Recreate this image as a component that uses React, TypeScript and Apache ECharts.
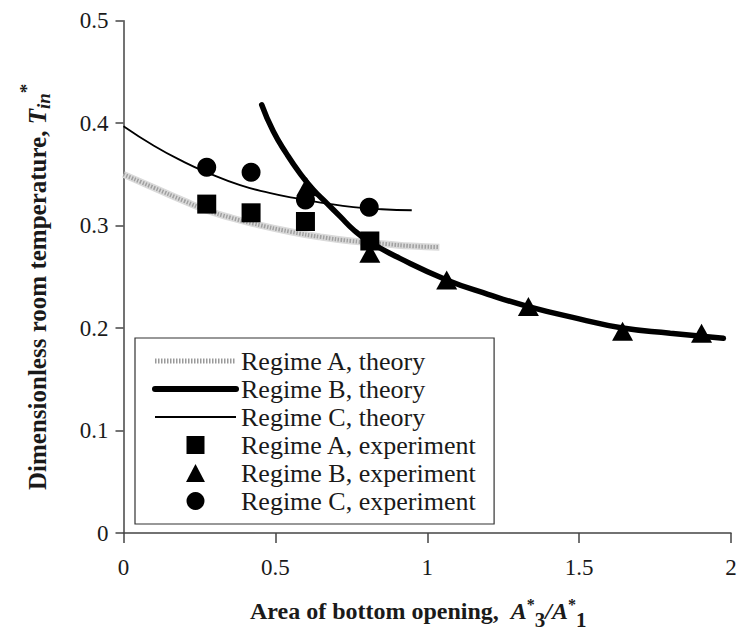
import React, { useEffect, useRef } from "react";
import * as echarts from "echarts";

const xTicks = [0, 0.5, 1, 1.5, 2];
const yTicks = [0, 0.1, 0.2, 0.3, 0.4, 0.5];

const regimeATheory = [
  [0, 0.35], [0.1, 0.337], [0.2, 0.324], [0.274, 0.315], [0.35, 0.308], [0.427, 0.302],
  [0.55, 0.294], [0.647, 0.289], [0.75, 0.285], [0.866, 0.282], [0.95, 0.28], [1.04, 0.279],
];
const regimeBTheory = [
  [0.455, 0.418], [0.493, 0.392], [0.537, 0.37], [0.581, 0.351], [0.625, 0.335], [0.669, 0.322],
  [0.713, 0.309], [0.757, 0.296], [0.811, 0.284], [0.91, 0.268], [1.064, 0.247], [1.2, 0.233],
  [1.333, 0.221], [1.5, 0.209], [1.643, 0.2], [1.8, 0.195], [1.904, 0.192], [1.975, 0.19],
];
const regimeCTheory = [
  [0, 0.397], [0.1, 0.378], [0.2, 0.362], [0.274, 0.352], [0.384, 0.3395], [0.48, 0.332],
  [0.57, 0.3265], [0.66, 0.322], [0.757, 0.318], [0.85, 0.316], [0.949, 0.315],
];
const regimeAExp = [[0.274, 0.321], [0.42, 0.3125], [0.599, 0.304], [0.811, 0.285]];
const regimeBExp = [[0.603, 0.338], [0.811, 0.273], [1.064, 0.247], [1.333, 0.221], [1.643, 0.197], [1.903, 0.195]];
const regimeCExp = [[0.274, 0.357], [0.42, 0.352], [0.599, 0.325], [0.809, 0.318]];

const names = [
  "Regime A, theory",
  "Regime B, theory",
  "Regime C, theory",
  "Regime A, experiment",
  "Regime B, experiment",
  "Regime C, experiment",
];

const FONT = "'Liberation Serif', 'Times New Roman', serif";
const INK = "#1a1a1a";
const HIDDEN = { color: "rgba(0,0,0,0)", borderColor: "rgba(0,0,0,0)", borderWidth: 0 };

export default function App() {
  const ref = useRef<HTMLDivElement>(null);
  useEffect(() => {
    if (!ref.current) return;
    const chart = echarts.init(ref.current, null, { renderer: "svg" });
    chart.setOption({
      animation: false,
      backgroundColor: "#fff",
      textStyle: { fontFamily: FONT },
      grid: { left: 123.5, right: 16, top: 20.7, bottom: 99, containLabel: false, outerBoundsMode: "none" },
      legend: {
        data: [
          { name: names[0], itemStyle: HIDDEN, lineStyle: { color: "#9a9a9a", width: 5, type: [1.5, 1.5] } },
          { name: names[1], itemStyle: HIDDEN, lineStyle: { color: "#000", width: 6 } },
          { name: names[2], itemStyle: HIDDEN, lineStyle: { color: "#000", width: 1.8 } },
          { name: names[3], icon: "path://M0,0H1V1H0Z" },
          { name: names[4], icon: "path://M0.5,0L1,0.95H0Z" },
          { name: names[5], icon: "circle" },
        ],
        orient: "vertical",
        left: 135,
        top: 338,
        backgroundColor: "#fff",
        borderColor: "#333",
        borderWidth: 1.2,
        padding: [10, 17, 10, 17],
        itemGap: 2,
        itemWidth: 81,
        itemHeight: 18,
        symbolKeepAspect: true,
        selectedMode: false,
        textStyle: { fontFamily: FONT, fontSize: 26, color: INK },
      },
      xAxis: {
        type: "value",
        min: xTicks[0],
        max: xTicks[xTicks.length - 1],
        interval: 0.5,
        axisLine: { onZero: false, lineStyle: { color: "#444", width: 1.5 } },
        axisTick: { show: true, length: 10, inside: false, lineStyle: { color: "#444", width: 1.5 } },
        splitLine: { show: false },
        axisLabel: { margin: 23, fontFamily: FONT, fontSize: 23, color: INK },
        name: "{b|Area of bottom opening,  }{i|A}{sup|*}{sub|3}{i|/A}{sup|*}{sub|1}",
        nameLocation: "middle",
        nameGap: 63,
        nameTextStyle: {
          fontFamily: FONT,
          padding: [0, 18, 0, 0],
          rich: {
            b: { fontFamily: FONT, fontSize: 24, fontWeight: "bold", color: INK, lineHeight: 30, verticalAlign: "middle" },
            i: { fontFamily: FONT, fontSize: 24, fontWeight: "bold", fontStyle: "italic", color: INK, lineHeight: 30, verticalAlign: "middle" },
            sup: { fontFamily: FONT, fontSize: 16, fontWeight: "bold", color: INK, lineHeight: 30, verticalAlign: "top" },
            sub: { fontFamily: FONT, fontSize: 21, fontWeight: "bold", color: INK, lineHeight: 30, verticalAlign: "bottom", padding: [0, 0, -4, 0] },
          },
        },
      },
      yAxis: {
        type: "value",
        min: yTicks[0],
        max: yTicks[yTicks.length - 1],
        interval: 0.1,
        axisLine: { show: true, onZero: false, lineStyle: { color: "#444", width: 1.5 } },
        axisTick: { show: true, length: 8, inside: false, lineStyle: { color: "#444", width: 1.5 } },
        splitLine: { show: false },
        axisLabel: { margin: 15, fontFamily: FONT, fontSize: 23, color: INK },
        name: "{b|Dimensionless room temperature, }{i|T}{sub|in}{sup|*}",
        nameLocation: "middle",
        nameGap: 71,
        nameRotate: 90,
        nameTextStyle: {
          fontFamily: FONT,
          padding: [0, 20, 0, 0],
          rich: {
            b: { fontFamily: FONT, fontSize: 25, fontWeight: "bold", color: INK, lineHeight: 30, verticalAlign: "middle" },
            i: { fontFamily: FONT, fontSize: 25, fontWeight: "bold", fontStyle: "italic", color: INK, lineHeight: 30, verticalAlign: "middle" },
            sup: { fontFamily: FONT, fontSize: 19, fontWeight: "bold", color: INK, lineHeight: 30, verticalAlign: "top", padding: [-6, 0, 0, 0] },
            sub: { fontFamily: FONT, fontSize: 19, fontWeight: "bold", fontStyle: "italic", color: INK, lineHeight: 30, verticalAlign: "bottom" },
          },
        },
      },
      series: [
        {
          name: "Regime A band",
          type: "line",
          data: regimeATheory,
          symbol: "none",
          smooth: true,
          lineStyle: { color: "#dadada", width: 7 },
          z: 2,
        },
        {
          name: names[0],
          type: "line",
          data: regimeATheory,
          symbol: "none",
          smooth: true,
          color: "#9a9a9a",
          lineStyle: { color: "#a0a0a0", width: 4, type: [1.5, 1.5] },
          z: 3,
        },
        {
          name: names[1],
          type: "line",
          data: regimeBTheory,
          symbol: "none",
          smooth: true,
          color: "#000",
          lineStyle: { color: "#000", width: 5.5, cap: "round" },
          z: 5,
        },
        {
          name: names[2],
          type: "line",
          data: regimeCTheory,
          symbol: "none",
          smooth: true,
          color: "#000",
          lineStyle: { color: "#000", width: 1.8 },
          z: 4,
        },
        {
          name: names[3],
          type: "scatter",
          data: regimeAExp,
          symbol: "rect",
          symbolSize: 19,
          itemStyle: { color: "#000", opacity: 1 },
          z: 6,
        },
        {
          name: names[4],
          type: "scatter",
          data: regimeBExp,
          symbol: "triangle",
          symbolSize: [21, 19],
          itemStyle: { color: "#000", opacity: 1 },
          z: 6,
        },
        {
          name: names[5],
          type: "scatter",
          data: regimeCExp,
          symbol: "circle",
          symbolSize: 19,
          itemStyle: { color: "#000", opacity: 1 },
          z: 6,
        },
      ],
    });
    return () => chart.dispose();
  }, []);
  return (
    <div
      ref={ref}
      style={{ position: "fixed", left: 0, top: 0, width: 747, height: 632, background: "#fff" }}
    />
  );
}
